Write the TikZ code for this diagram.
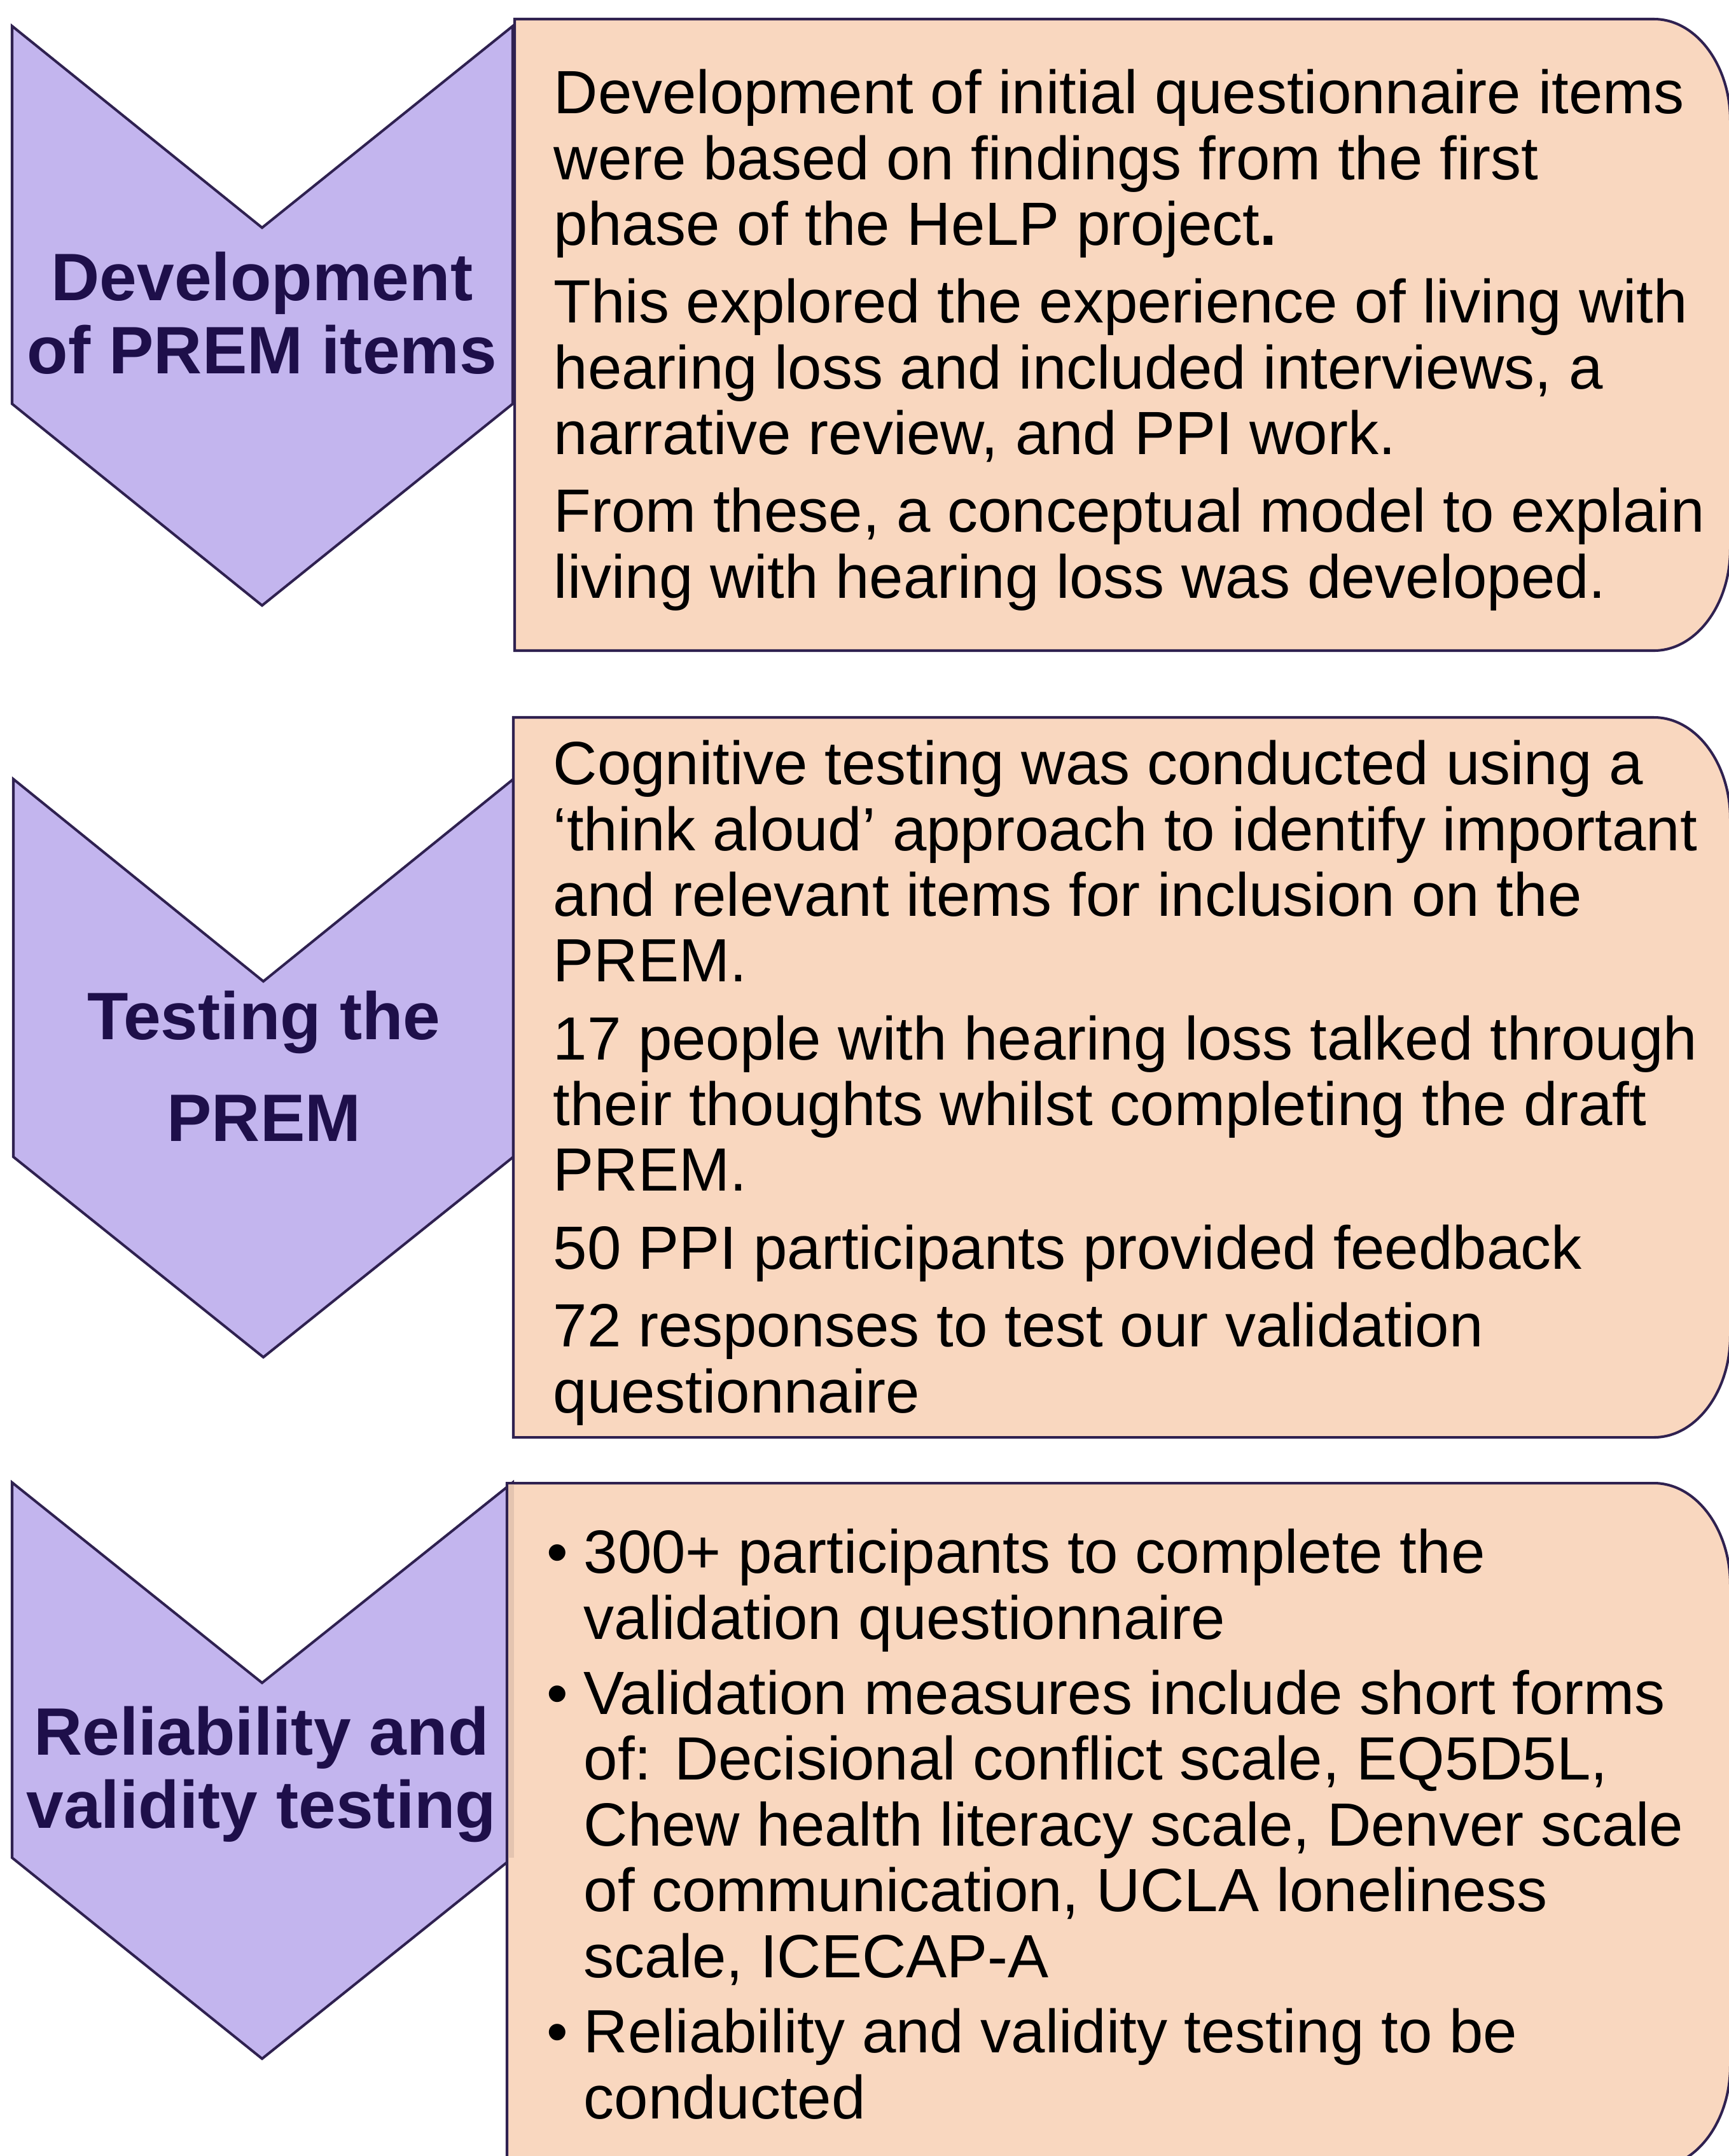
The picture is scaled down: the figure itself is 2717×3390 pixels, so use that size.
\documentclass[tikz,border=0pt]{standalone}
\usepackage{fontspec}
\setmainfont{Liberation Sans}

\definecolor{chevfill}{HTML}{C3B5EE}
\definecolor{cardfill}{HTML}{F9D7BF}
\definecolor{edgeline}{HTML}{2F2150}
\definecolor{phasetext}{HTML}{1E0F4A}
\definecolor{overlap}{HTML}{E4C4B0}

\newcommand{\topline}{\rule{0pt}{25pt}}
\newcommand{\itemdot}{\makebox[5.8mm][l]{•}}
\newcommand{\itemgap}{\hspace*{5.8mm}}

\tikzset{
    chevron/.style={draw=edgeline, fill=chevfill, line width=1.15pt, line join=miter},
    card/.style={draw=edgeline, fill=cardfill, line width=1.15pt},
    phase/.style={font=\fontsize{30}{32.7}\selectfont\bfseries, text=phasetext, align=center, inner sep=0pt, anchor=north},
    detail/.style={font=\fontsize{27.3}{29.4}\selectfont, align=left, inner sep=0pt, anchor=north west}
}

\begin{document}
\begin{tikzpicture}[x=0.01cm, y=-0.01cm]
        \useasboundingbox (0,0) rectangle (2717,3390);

        \draw[chevron] (19,41) -- (412,358) -- (806,41) -- (806,635) -- (412,952) -- (19,635) -- cycle;
        \draw[chevron] (21,1225) -- (414,1543) -- (807,1225) -- (807,1819) -- (414,2134) -- (21,1819) -- cycle;
        \draw[chevron] (19,2331) -- (412,2646) -- (806,2331) -- (806,2921) -- (412,3237) -- (19,2921) -- cycle;

        \draw[card] (809,30) -- (2600,30) .. controls (2666,30) and (2720,102) .. (2720,190)
            -- (2720,863) .. controls (2720,951) and (2666,1023) .. (2600,1023) -- (809,1023) -- cycle;
        \draw[card] (807,1128) -- (2600,1128) .. controls (2666,1128) and (2720,1200) .. (2720,1288)
            -- (2720,2100) .. controls (2720,2188) and (2666,2260) .. (2600,2260) -- (807,2260) -- cycle;
        \draw[card] (797,2332) -- (2600,2332) .. controls (2666,2332) and (2720,2404) .. (2720,2492)
            -- (2720,3248) .. controls (2720,3336) and (2666,3408) .. (2600,3408) -- (797,3408) -- cycle;
        \fill[overlap] (799,2334) rectangle (808,2921);

        \node[phase] (devlabel) at (412,384) {\topline Development\\of PREM items};
        \node[phase] (testlabel) at (415,1546) {\topline Testing the\\[12.8pt]PREM};
        \node[phase] (rellabel) at (411,2671) {\topline Reliability and\\validity testing};

        \node[detail] (devtext) at (870,90) {\topline Development of initial questionnaire items\\
            were based on findings from the first\\
            phase of the HeLP project\textbf{.}\\[5.4pt]
            This explored the experience of living with\\
            hearing loss and included interviews, a\\
            narrative review, and PPI work.\\[5.4pt]
            From these, a conceptual model to explain\\
            living with hearing loss was developed.};

        \node[detail] (testtext) at (869,1145) {\topline Cognitive testing was conducted using a\\
            ‘think aloud’ approach to identify important\\
            and relevant items for inclusion on the\\
            PREM.\\[5.4pt]
            17 people with hearing loss talked through\\
            their thoughts whilst completing the draft\\
            PREM.\\[5.4pt]
            50 PPI participants provided feedback\\[5.4pt]
            72 responses to test our validation\\
            questionnaire};

        \node[detail] (reltext) at (859,2385) {\topline\itemdot 300+ participants to complete the\\
            \itemgap validation questionnaire\\[4.3pt]
            \itemdot Validation measures include short forms\\
            \itemgap of: Decisional conflict scale, EQ5D5L,\\
            \itemgap Chew health literacy scale, Denver scale\\
            \itemgap of communication, UCLA loneliness\\
            \itemgap scale, ICECAP-A\\[4.3pt]
            \itemdot Reliability and validity testing to be\\
            \itemgap conducted};

    \end{tikzpicture}
\end{document}
